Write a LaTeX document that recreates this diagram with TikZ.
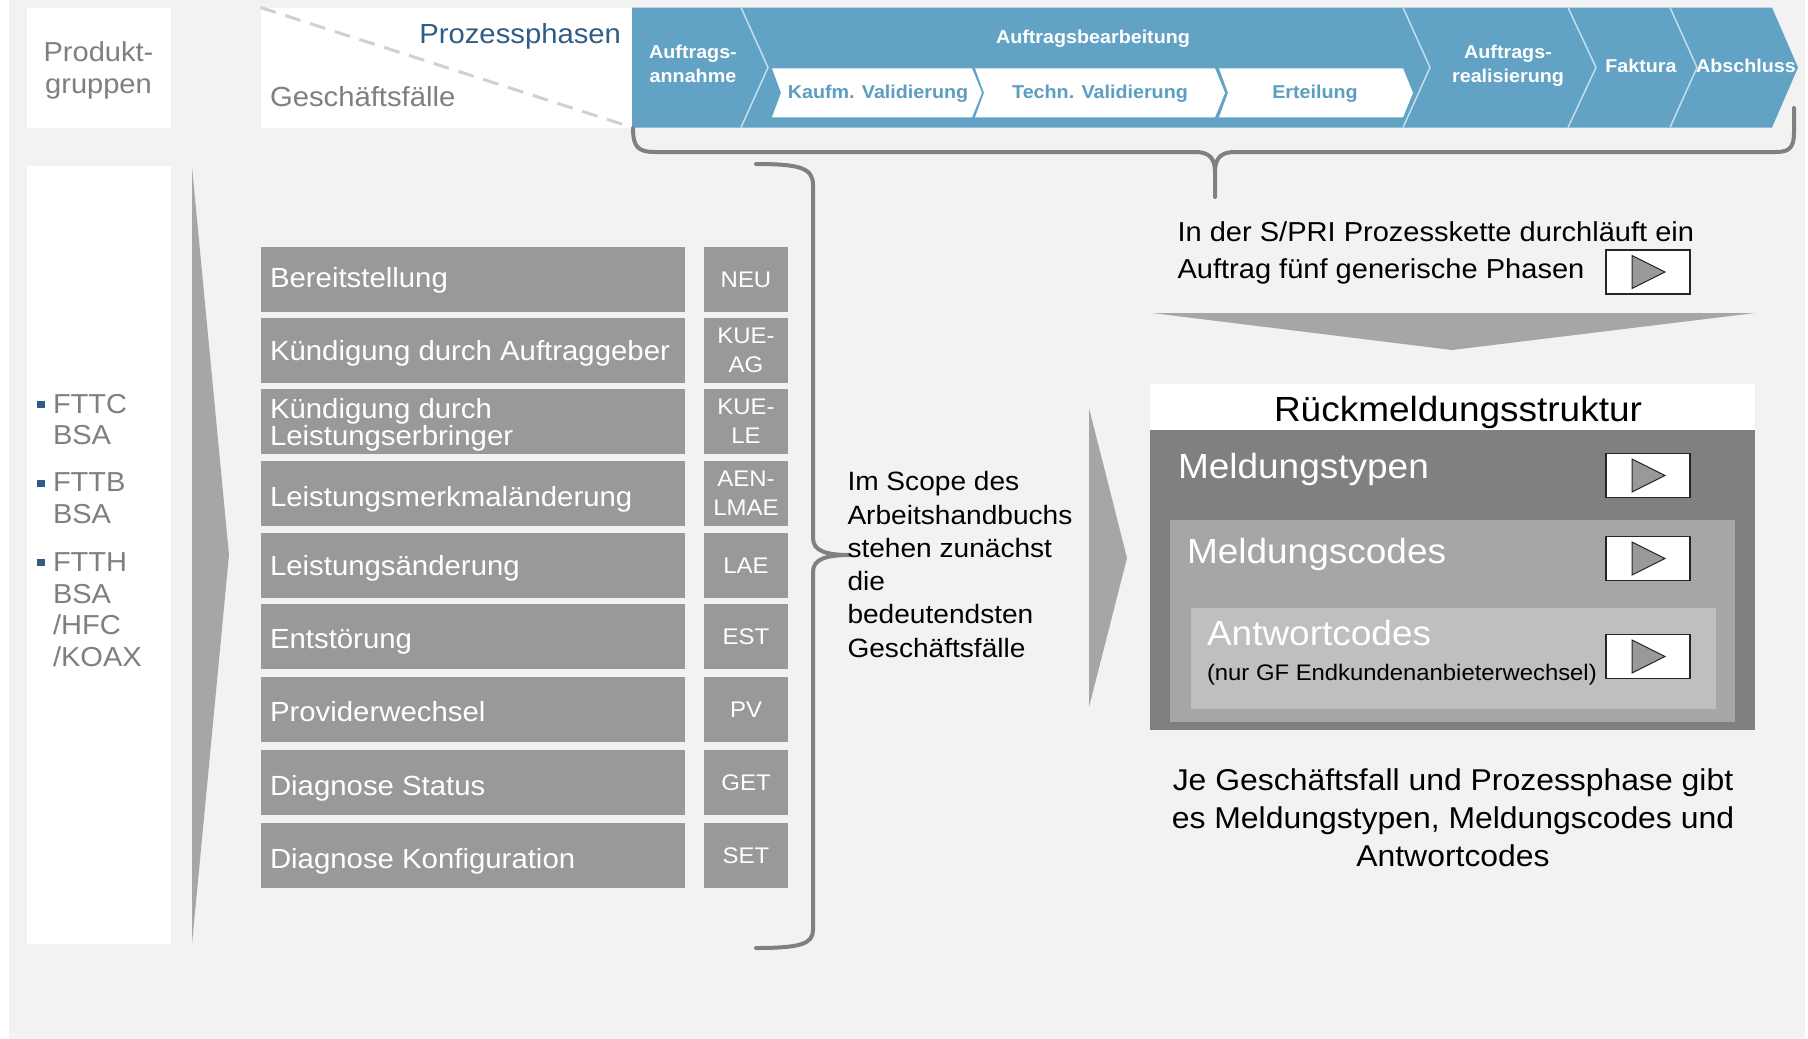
\documentclass[tikz,border=0pt]{standalone}
\usepackage{fontspec}
\setmainfont{Liberation Sans}[FakeStretch=1.06]
\usetikzlibrary{calc}
\definecolor{bgc}{HTML}{F2F2F2}
\definecolor{barblue}{HTML}{62A2C4}
\definecolor{sepc}{HTML}{C4DEEC}
\definecolor{subtxt}{HTML}{5C9DC2}
\definecolor{darkblue}{HTML}{2F5D86}
\definecolor{boxgray}{HTML}{999999}
\definecolor{txtgray}{HTML}{7F7F7F}
\definecolor{arrowgray}{HTML}{A6A6A6}
\definecolor{bracegray}{HTML}{808080}
\definecolor{dashc}{HTML}{D0D0D0}
\definecolor{rdark}{HTML}{808080}
\definecolor{rmid}{HTML}{A6A6A6}
\definecolor{rlight}{HTML}{BFBFBF}
\definecolor{trigray}{HTML}{999999}
\newcommand\fsz[2]{\fontsize{#1pt}{#2pt}\selectfont}
\newcommand\playbtn[3]{%
  \node[playbox] (#1) at (#2,#3) {};
  \draw[fill=trigray, draw=black!85, line width=1pt]
    ($(#1.center)+(-16,-16.5)$) -- ($(#1.center)+(17,0)$) -- ($(#1.center)+(-16,16.5)$) -- cycle;
}
\begin{document}
\begin{tikzpicture}[x=1pt,y=-1pt,
  every node/.style={inner sep=0pt, outer sep=0pt},
  whitebox/.style={fill=white, anchor=north west},
  gfbox/.style={fill=boxgray, anchor=north west, minimum width=424pt, minimum height=65pt},
  gftext/.style={text=white, anchor=base west, font=\fsz{27.7}{25}},
  codebox/.style={fill=boxgray, text=white, anchor=north west, minimum width=84pt, minimum height=65pt, align=center, font=\fsz{22.6}{29}},
  chevlbl/.style={text=white, font=\bfseries\fsz{18.6}{24}, align=center},
  sublbl/.style={text=subtxt, font=\bfseries\fsz{18.6}{22}, anchor=base},
  sepline/.style={draw=sepc, line width=1.5pt},
  subchev/.style={fill=white},
  brace/.style={draw=bracegray, line width=4pt, line cap=round, line join=round},
  bigarrow/.style={fill=arrowgray},
  playbox/.style={draw=black!85, line width=1.2pt, fill=white, minimum width=84pt, minimum height=44pt},
  graytext/.style={text=txtgray, font=\fsz{27.4}{31.7}, align=left, anchor=north west},
  blacktext/.style={text=black, align=left}
]
\useasboundingbox (0,0) rectangle (1808,1039);
\fill[bgc] (9,0) rectangle (1805,1039);

% ---------- top left header boxes
\node[whitebox, minimum width=144pt, minimum height=120pt] (pgbox) at (26.5,7.5) {};
\node[anchor=north, align=center, text=txtgray, font=\fsz{27.4}{31.5}] (pgtxt) at (98.5,42) {Produkt-\\gruppen};

\node[whitebox, minimum width=372pt, minimum height=120pt] (hdr) at (260.5,7.5) {};
\draw[dashc, line width=3pt, dash pattern=on 16pt off 10pt] (hdr.north west) -- (hdr.south east);
\node[anchor=base east, text=darkblue, font=\fsz{27.6}{30}] (pp) at (621,43.3) {Prozessphasen};
\node[anchor=base west, text=txtgray, font=\fsz{27.6}{30}] (gf) at (270,106.7) {Geschäftsfälle};

% ---------- process chain bar
\fill[barblue] (632,7.5) -- (1772,7.5) -- (1798,67.5) -- (1772,127.5) -- (632,127.5) -- cycle;
\draw[sepline] (741,7.5) -- (768,67.5) -- (741,127.5);
\draw[sepline] (1403,7.5) -- (1430,67.5) -- (1403,127.5);
\draw[sepline] (1568,7.5) -- (1596,67.5) -- (1568,127.5);
\draw[sepline] (1670,7.5) -- (1697,67.5) -- (1670,127.5);
% sub chevrons
\fill[subchev] (772,68.3) -- (972,68.3) -- (982,92.8) -- (972,117.3) -- (772,117.3) -- (781,92.8) -- cycle;
\fill[subchev] (975,68.3) -- (1215,68.3) -- (1225,92.8) -- (1215,117.3) -- (975,117.3) -- (984,92.8) -- cycle;
\fill[subchev] (1219,68.3) -- (1403,68.3) -- (1413,92.8) -- (1403,117.3) -- (1219,117.3) -- (1228,92.8) -- cycle;

\node[chevlbl, anchor=north] (ph1) at (693,45.5) {Auftrags-\\annahme};
\node[chevlbl, anchor=base] (ph2) at (1093,43) {Auftragsbearbeitung};
\node[chevlbl, anchor=north] (ph3) at (1508,45.5) {Auftrags-\\realisierung};
\node[chevlbl, anchor=base] (ph4) at (1641,72.5) {Faktura};
\node[chevlbl, anchor=base] (ph5) at (1746,72.5) {Abschluss};
\node[sublbl] (sp1) at (878,98) {Kaufm. Validierung};
\node[sublbl] (sp2) at (1100,98) {Techn. Validierung};
\node[sublbl] (sp3) at (1315,98) {Erteilung};

% brace under the bar
\draw[brace] (633,128) .. controls (633,147) and (638,152) .. (655,152) -- (1195,152)
  .. controls (1209,152) and (1215,158) .. (1215,172) -- (1215,197);
\draw[brace] (1215,172) .. controls (1215,158) and (1221,152) .. (1235,152) -- (1776,152)
  .. controls (1790,152) and (1794,147) .. (1794,132) -- (1794,108);

% ---------- product groups
\node[whitebox, minimum width=144pt, minimum height=778pt] (pglist) at (26.5,166) {};
\fill[darkblue] (37,400.5) rectangle (45,407.5);
\fill[darkblue] (37,479.5) rectangle (45,486.5);
\fill[darkblue] (37,559) rectangle (45,566);
\node[graytext] (p1) at (53,394) {FTTC\\BSA};
\node[graytext] (p2) at (53,473) {FTTB\\BSA};
\node[graytext] (p3) at (53,552.5) {FTTH\\BSA\\/HFC\\/KOAX};
\fill[bigarrow] (192,167) -- (229,555) -- (192,944) -- cycle;

% ---------- business cases
\foreach \i/\t/\b/\lbl/\code in {
  1/247/287.3/Bereitstellung/NEU,
  2/318/360/Kündigung durch Auftraggeber/{KUE-\\AG},
  4/461/506.7/Leistungsmerkmaländerung/{AEN-\\LMAE},
  5/533/575/Leistungsänderung/LAE,
  6/604/648.3/Entstörung/EST,
  7/677/721.7/Providerwechsel/PV,
  8/750/795/Diagnose Status/GET,
  9/823/868.3/Diagnose Konfiguration/SET}{
  \node[gfbox] (gf\i) at (261,\t) {};
  \node[gftext] (gt\i) at (270,\b) {\lbl};
  \node[codebox] (cd\i) at (704,\t) {\code};
}
\node[gfbox] (gf3) at (261,389) {};
\node[text=white, anchor=north west, align=left, font=\fsz{27.7}{25}] (gt3) at (270,398.5) {Kündigung durch\\Leistungserbringer};
\node[codebox] (cd3) at (704,389) {KUE-\\LE};

% brace right of the list
\draw[brace] (756,164) .. controls (800,164) and (813,168) .. (813,185) -- (813,538)
  .. controls (813,551) and (826,555) .. (850,555)
  .. controls (826,555) and (813,559) .. (813,572) -- (813,930)
  .. controls (813,944) and (800,948) .. (756,948);

\node[blacktext, anchor=north west, font=\fsz{26.5}{33.3}] (scope) at (847.5,471.5)
  {Im Scope des\\Arbeitshandbuchs\\stehen zunächst\\die\\bedeutendsten\\Geschäftsfälle};
\fill[bigarrow] (1089,408) -- (1127,558) -- (1089,707) -- cycle;

% ---------- right part
\node[blacktext, anchor=north west, font=\fsz{27.4}{37}] (spri) at (1177.5,221.7)
  {In der S/PRI Prozesskette durchläuft ein\\Auftrag fünf generische Phasen};
\playbtn{pb0}{1648}{272}
\fill[bigarrow] (1152,313) -- (1755,313) -- (1452,350) -- cycle;

\node[whitebox, minimum width=605pt, minimum height=46pt] (rhead) at (1150,384) {};
\node[fill=rdark, anchor=north west, minimum width=605pt, minimum height=300pt] (rtyp) at (1150,430) {};
\node[fill=rmid, anchor=north west, minimum width=565pt, minimum height=202pt] (rcod) at (1170,520) {};
\node[fill=rlight, anchor=north west, minimum width=525pt, minimum height=101pt] (rant) at (1190.5,608) {};
\node[anchor=base, font=\fsz{34.9}{40}] (rtitle) at (1458,421.5) {Rückmeldungsstruktur};
\node[anchor=base west, text=white, font=\fsz{34.9}{40}] (ttyp) at (1178,478) {Meldungstypen};
\node[anchor=base west, text=white, font=\fsz{34.9}{40}] (tcod) at (1187,563) {Meldungscodes};
\node[anchor=base west, text=white, font=\fsz{34.9}{40}] (tant) at (1207,645) {Antwortcodes};
\node[anchor=base west, font=\fsz{22.5}{26}] (tnur) at (1207,680) {(nur GF Endkundenanbieterwechsel)};
\playbtn{pb1}{1648}{475.5}
\playbtn{pb2}{1648}{558.5}
\playbtn{pb3}{1648}{656.5}

\node[blacktext, align=center, anchor=north, font=\fsz{30.1}{38}] (jegf) at (1453,768.5)
  {Je Geschäftsfall und Prozessphase gibt\\es Meldungstypen, Meldungscodes und\\Antwortcodes};
\end{tikzpicture}
\end{document}
